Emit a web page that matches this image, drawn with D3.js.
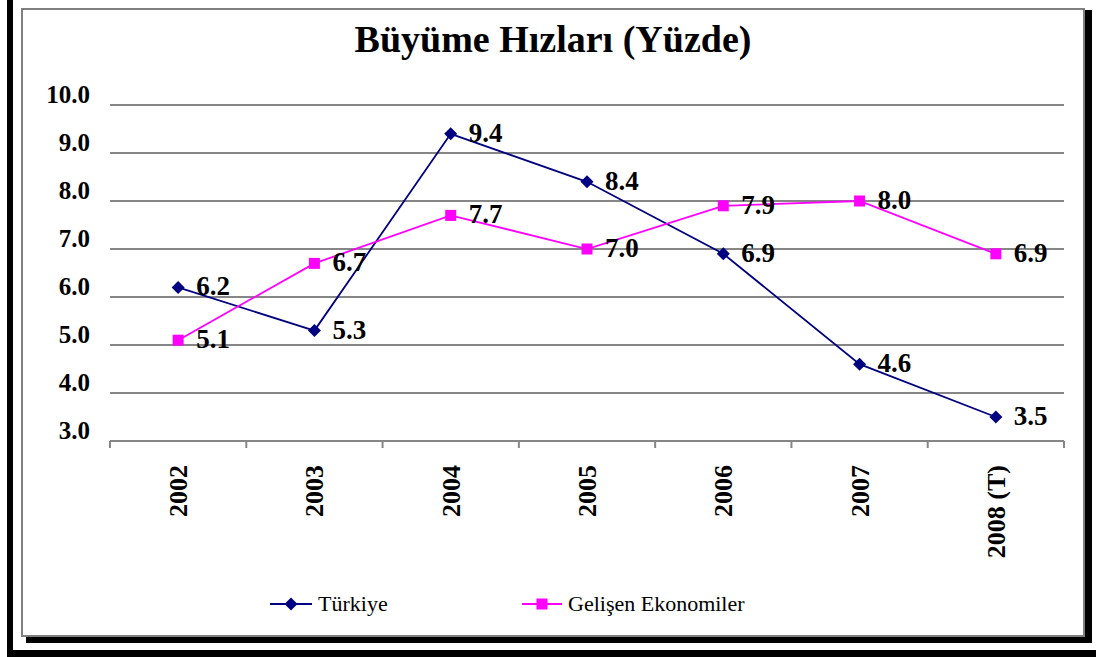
<!DOCTYPE html>
<html>
<head>
<meta charset="utf-8">
<script src="https://cdn.jsdelivr.net/npm/d3@7"></script>
<style>
html,body{margin:0;padding:0;background:#fff;}
svg{display:block;}
text{font-family:"Liberation Serif","Times New Roman",serif;}
</style>
</head>
<body>
<svg id="chart" width="1096" height="657"></svg>
<script>
const categories = ["2002","2003","2004","2005","2006","2007","2008 (T)"];
const turkiye = [6.2, 5.3, 9.4, 8.4, 6.9, 4.6, 3.5];
const gelisen = [5.1, 6.7, 7.7, 7.0, 7.9, 8.0, 6.9];
const yTicks = [3,4,5,6,7,8,9,10];
const seriesNames = ["Türkiye","Gelişen Ekonomiler"];
const title = "Büyüme Hızları (Yüzde)";

const svg = d3.select("#chart");

// frame
svg.append("rect").attr("x",7).attr("y",0).attr("width",6).attr("height",657).attr("fill","#000");
svg.append("rect").attr("x",7).attr("y",650).attr("width",1089).attr("height",7).attr("fill","#000");
svg.append("rect").attr("x",26).attr("y",637).attr("width",1066).attr("height",6).attr("fill","#000");
svg.append("rect").attr("x",1085).attr("y",10).attr("width",7).attr("height",633).attr("fill","#000");
svg.append("rect").attr("x",22).attr("y",9).attr("width",1062).attr("height",627)
  .attr("fill","#fff").attr("stroke","#808080").attr("stroke-width",2);

const x = d3.scaleBand().domain(categories).range([110,1064]);
const y = d3.scaleLinear().domain([3,10]).range([441,105]);
const cx = d => x(d) + x.bandwidth()/2;

// title
svg.append("text").attr("x",553).attr("y",52).attr("text-anchor","middle")
  .attr("font-weight","bold").attr("font-size",38).text(title);

// gridlines
svg.append("g").selectAll("line").data(yTicks.filter(t=>t>3)).join("line")
  .attr("x1",110).attr("x2",1064).attr("y1",d=>y(d)).attr("y2",d=>y(d))
  .attr("stroke","#868686").attr("stroke-width",2);

// y axis labels
svg.append("g").selectAll("text").data(yTicks).join("text")
  .attr("x",90).attr("y",d=>y(d)-2).attr("text-anchor","end")
  .attr("font-weight","bold").attr("font-size",25)
  .text(d=>d.toFixed(1));

// x axis
const xAxis = d3.axisBottom(x).tickSize(0).tickFormat("");
const gx = svg.append("g").attr("transform","translate(0,441)").call(xAxis);
gx.select(".domain").attr("stroke","#868686").attr("stroke-width",2).attr("d","M110,0H1064");
const bounds = categories.map(c=>x(c)).concat([x(categories[categories.length-1])+x.bandwidth()]);
svg.append("g").selectAll("line").data(bounds).join("line")
  .attr("x1",d=>d).attr("x2",d=>d).attr("y1",441).attr("y2",448)
  .attr("stroke","#868686").attr("stroke-width",2);

svg.append("g").selectAll("text").data(categories).join("text")
  .attr("transform",d=>`translate(${cx(d)+9},465) rotate(-90)`)
  .attr("text-anchor","end")
  .attr("font-weight","bold").attr("font-size",26)
  .text(d=>d);

const line = d3.line().x((d,i)=>cx(categories[i])).y(d=>y(d));
const colors = ["#000080","#FF00FF"];
const diamond = "M0,-6.5L6.5,0L0,6.5L-6.5,0Z";
const square = "M-5.5,-5.5H5.5V5.5H-5.5Z";

[[turkiye,0],[gelisen,1]].forEach(([vals,k])=>{
  svg.append("path").datum(vals).attr("d",line).attr("fill","none")
    .attr("stroke",colors[k]).attr("stroke-width",1.8);
  svg.append("g").selectAll("path").data(vals).join("path")
    .attr("transform",(d,i)=>`translate(${cx(categories[i])},${y(d)})`)
    .attr("d",k===0?diamond:square).attr("fill",colors[k]);
  svg.append("g").selectAll("text").data(vals).join("text")
    .attr("x",(d,i)=>cx(categories[i])+18).attr("y",d=>y(d)+8)
    .attr("font-weight","bold").attr("font-size",27)
    .text(d=>d.toFixed(1));
});

// legend
const legendPos = [{x1:270,x2:312,tx:318},{x1:522,x2:562,tx:568}];
legendPos.forEach((p,k)=>{
  const g = svg.append("g");
  g.append("line").attr("x1",p.x1).attr("x2",p.x2).attr("y1",604).attr("y2",604)
    .attr("stroke",colors[k]).attr("stroke-width",1.8);
  g.append("path").attr("transform",`translate(${(p.x1+p.x2)/2},604)`)
    .attr("d",k===0?diamond:square).attr("fill",colors[k]);
  g.append("text").attr("x",p.tx).attr("y",611)
    .attr("font-size",22).text(seriesNames[k]);
});
</script>
</body>
</html>
